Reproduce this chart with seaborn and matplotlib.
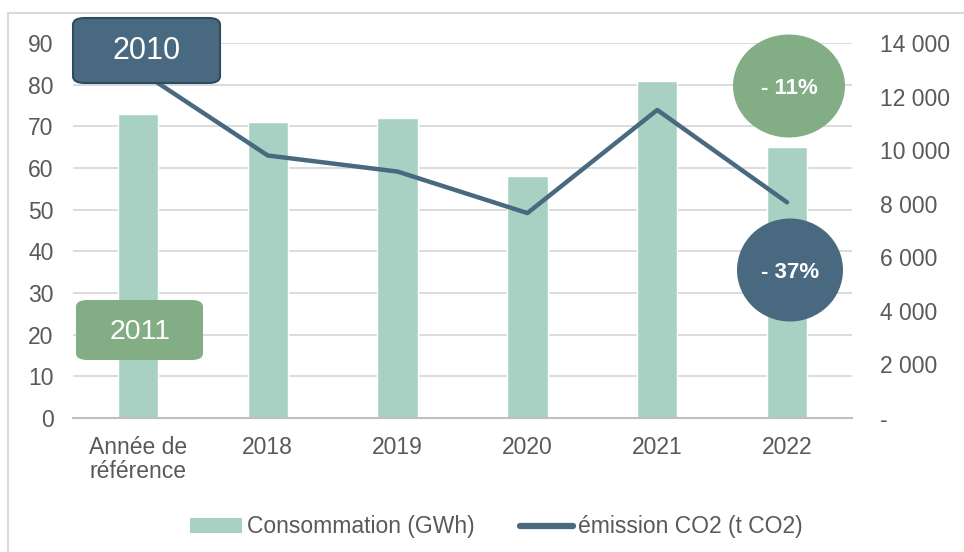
import seaborn as sns
import matplotlib.pyplot as plt
import numpy as np
import pandas as pd
from matplotlib.patches import FancyBboxPatch, Ellipse, Rectangle, Patch
from matplotlib.lines import Line2D
from matplotlib.ticker import FuncFormatter

##-----Data-----##
categories = ["Année de\nréférence", "2018", "2019", "2020", "2021", "2022"]
consommation = [73, 71, 72, 58, 81, 65]           # GWh
emission = [13000, 9800, 9200, 7650, 11500, 8050]  # t CO2
left_ticks = [0, 10, 20, 30, 40, 50, 60, 70, 80, 90]
right_ticks = [0, 2000, 4000, 6000, 8000, 10000, 12000, 14000]

bar_col = "#a9d1c3"
line_col = "#48697f"
green = "#82ad85"
grey_txt = "#595959"
fs = 16.5

sns.set_theme(style="white")
plt.rcParams['font.family'] = ['Liberation Sans', 'DejaVu Sans']

fig = plt.figure(figsize=(9.64, 5.52), dpi=100)
ax = fig.add_axes([73/964, 1-418/552, (852-73)/964, (418-43)/552])

# outer frame
fig.patches.append(Rectangle((8/964, -0.1), 1.2, 1.1 - 13/552, transform=fig.transFigure,
                             fill=False, edgecolor="#d9d9d9", lw=1.5, zorder=0))

df = pd.DataFrame({"cat": categories, "conso": consommation, "co2": emission})

##-----Bars-----##
sns.barplot(data=df, x="cat", y="conso", color=bar_col, width=0.31, ax=ax,
            saturation=1, zorder=2)
ax.set_ylim(0, 90)
ax.set_yticks(left_ticks)
ax.set_xlim(-0.5, len(categories) - 0.5)
ax.set_xlabel("")
ax.set_ylabel("")
for s in ["top", "left", "right"]:
    ax.spines[s].set_visible(False)
ax.spines["bottom"].set_color("#bfbfbf")
ax.spines["bottom"].set_linewidth(1.5)
ax.yaxis.grid(True, color="#d9d9d9", lw=1.3, zorder=0)
ax.set_axisbelow(True)
ax.tick_params(axis="y", length=0, pad=14, labelsize=fs, labelcolor=grey_txt)
ax.tick_params(axis="x", length=0, pad=13, labelsize=fs, labelcolor=grey_txt)
for lbl in ax.get_xticklabels():
    lbl.set_linespacing(1.05)

##-----Line-----##
ax2 = ax.twinx()
sns.lineplot(x=np.arange(len(categories)), y=df["co2"], color=line_col, lw=3.2, ax=ax2,
             zorder=3)
ax2.set_ylim(0, 14000)
ax2.set_yticks(right_ticks)
ax2.yaxis.set_major_formatter(FuncFormatter(
    lambda v, p: "-" if v == 0 else f"{int(v):,}".replace(",", " ")))
ax2.tick_params(axis="y", length=0, pad=20, labelsize=fs, labelcolor=grey_txt)
ax2.set_ylabel("")
for s in ax2.spines.values():
    s.set_visible(False)

##-----Annotations-----##
def px(x, y):
    return x/964, 1 - y/552

x0, y0 = px(73, 83)
box = FancyBboxPatch((x0, y0), 147/964, 65/552, boxstyle="round,pad=0,rounding_size=0.012",
                     transform=fig.transFigure, facecolor=line_col, edgecolor="#2f4b5e",
                     lw=1.5, zorder=5)
fig.patches.append(box)
fig.text(*px(147, 51), "2010", ha="center", va="center", color="white", fontsize=22, zorder=6)

x0, y0 = px(76, 360)
box2 = FancyBboxPatch((x0, y0), 127/964, 60/552, boxstyle="round,pad=0,rounding_size=0.012",
                      transform=fig.transFigure, facecolor=green, edgecolor="none", zorder=5)
fig.patches.append(box2)
fig.text(*px(140, 332), "2011", ha="center", va="center", color="white", fontsize=20.5, zorder=6)

fig.patches.append(Ellipse(px(789, 86), 112/964, 103/552, transform=fig.transFigure,
                           facecolor=green, edgecolor="none", zorder=5))
fig.text(*px(789, 88), "- 11%", ha="center", va="center", color="white", fontsize=16,
         fontweight="bold", zorder=6)
fig.patches.append(Ellipse(px(790, 270), 106/964, 103/552, transform=fig.transFigure,
                           facecolor=line_col, edgecolor="none", zorder=5))
fig.text(*px(790, 272), "- 37%", ha="center", va="center", color="white", fontsize=16,
         fontweight="bold", zorder=6)

##-----Legend-----##
handles = [Patch(facecolor=bar_col, edgecolor="none"),
           Line2D([0], [0], color=line_col, lw=4.5, solid_capstyle="round")]
fig.legend(handles, ["Consommation (GWh)", "émission CO2 (t CO2)"], loc="center",
           bbox_to_anchor=(496/964, 1 - 527/552), ncol=2, frameon=False, fontsize=fs,
           labelcolor=grey_txt, handlelength=2.3, handleheight=0.6, handletextpad=0.2,
           columnspacing=2.0)

plt.savefig("out.png", dpi=100)
